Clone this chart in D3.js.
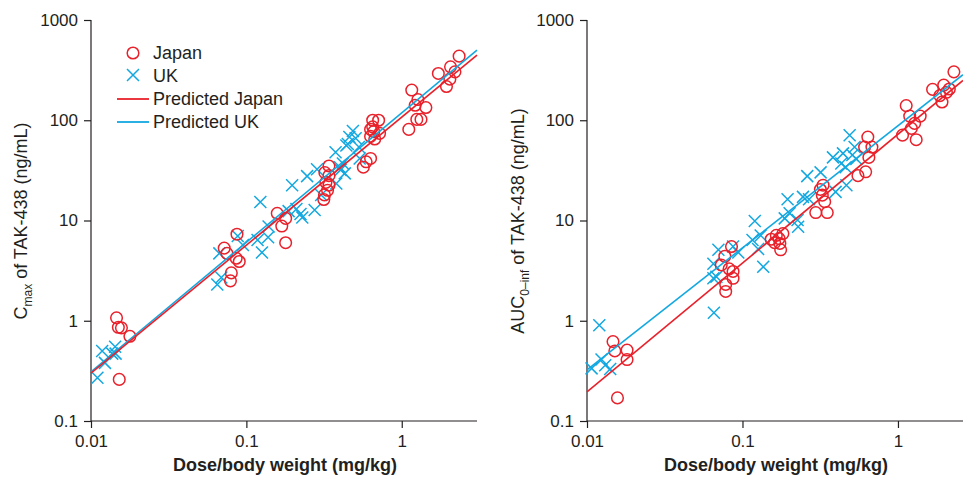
<!DOCTYPE html>
<html>
<head>
<meta charset="utf-8">
<script src="https://cdn.jsdelivr.net/npm/d3@7"></script>
<style>
  body { margin: 0; background: #fff; }
  svg { display: block; font-family: "Liberation Sans", Arial, sans-serif; }
  .tick text { fill: #231f20; }
</style>
</head>
<body>
<svg id="chart" width="963" height="477"></svg>
<script>
// Cmax panel (dose mg/kg, ng/mL)
var cmaxJapanDose = [0.0146,0.0150,0.0157,0.0178,0.0152, 0.072,0.075,0.087,0.086,0.090,0.080,0.079,
  0.158,0.179,0.169,0.179, 0.34,0.32,0.34,0.325,0.34,0.333,0.315,0.318, 0.566,0.59,0.63,
  0.65,0.71,0.65,0.66,0.72,0.63,0.67,0.63, 1.16,1.27,1.22,1.43,1.25,1.33,1.11, 2.34,1.72,2.06,2.2,2.04,1.94];
var cmaxJapan = [1.07,0.86,0.85,0.70,0.26, 5.3,4.7,7.3,4.2,3.9,3.0,2.5,
  11.8,10.5,8.8,6.0, 35,30,28,24,22.5,20,16.2,18, 34,38.5,41.6,
  100,100,86,77,74,69,65,81, 200,161,141,134,102,102,81, 436,293,341,304,257,217];
var cmaxUKDose = [0.0118,0.0143,0.0137,0.0144,0.0123,0.011, 0.065,0.069,0.067,0.088,0.095,
  0.123,0.126,0.118,0.138,0.139, 0.197,0.246,0.187,0.21,0.223,0.229,0.275,0.285,
  0.375,0.418,0.404,0.379,0.303,0.45,0.485,0.505,0.53,0.536,0.46,0.44,0.40,0.43];
var cmaxUK = [0.50,0.55,0.47,0.47,0.38,0.27, 2.3,2.7,4.7,7.0,5.7,
  15.3,4.8,6.4,6.8,8.7, 22.5,27.7,12.4,13,11.6,10.7,12.7,32.5,
  48,37,32,23.4,18,58,78,66,54,41.6,68,56,34,29.5];

// AUC panel
var aucJapanDose = [0.0147,0.0151,0.0181,0.0181,0.0157, 0.085,0.077,0.073,0.082,0.087,0.087,0.078,0.078,
  0.153,0.165,0.182,0.161,0.172,0.176,0.174, 0.33,0.317,0.326,0.338,0.296,0.351,
  0.64,0.61,0.68,0.65,0.62,0.553, 1.13,1.19,1.39,1.28,1.22,1.07,1.31, 2.29,1.67,1.97,2.14,1.86,1.92,2.05];
var aucJapan = [0.62,0.50,0.51,0.41,0.17, 5.5,4.4,3.6,3.3,3.1,2.65,2.3,1.96,
  6.5,7.1,7.4,6.0,6.6,5.1,5.9, 22.5,20.4,17.9,15.4,12,12,
  68,54,54,42.6,30.6,28, 140,110,110,93,83,71,64, 304,203,224,205,176,152,190];
var aucUKDose = [0.012,0.0107,0.0124,0.0131,0.0141, 0.0655,0.065,0.068,0.065,0.07,0.087,0.094,
  0.12,0.116,0.131,0.126,0.136, 0.195,0.187,0.201,0.226,0.228,0.245,0.268,0.261,0.318,
  0.382,0.397,0.432,0.461,0.443,0.489,0.526,0.509,0.466,0.54];
var aucUK = [0.9,0.335,0.41,0.36,0.33, 1.2,2.65,2.75,3.7,5.1,5.5,4.8,
  9.9,6.4,7.1,5.2,3.45, 16.3,10.5,11.8,10.1,8.65,17.2,16.3,27.7,30.2,
  42.6,19.3,37,34,46.7,71,54,45,22.5,41];

// model predictions (straight lines on log-log)
var predDoseCmax = [0.01, 3.05];
var predJapanCmax = [0.30, 446];
var predUKCmax = [0.31, 500];
var predDoseAuc = [0.01, 2.62];
var predJapanAuc = [0.195, 250];
var predUKAuc = [0.323, 285];

var yTicks = [0.1, 1, 10, 100, 1000];
var xTicks = [0.01, 0.1, 1];
var legendLabels = ["Japan", "UK", "Predicted Japan", "Predicted UK"];

var red = "#e8212b", blue = "#13a8e0", ink = "#231f20";

var svg = d3.select("#chart");

function zip(a, b){ return a.map(function(d, i){ return [d, b[i]]; }); }

function drawPanel(opt){
  var x = d3.scaleLog().domain([0.01, opt.xmax]).range([opt.left, opt.right]);
  var y = d3.scaleLog().domain([0.1, 1000]).range([421, 20]);
  var g = svg.append("g");

  var xAxis = d3.axisBottom(x).tickValues(xTicks).tickSize(7).tickPadding(7)
    .tickFormat(function(d){ return String(d); });
  var yAxis = d3.axisLeft(y).tickValues(yTicks).tickSize(7).tickPadding(6)
    .tickFormat(function(d){ return String(d); });

  var gx = g.append("g").attr("transform", "translate(0,421)").call(xAxis);
  var gy = g.append("g").attr("transform", "translate(" + opt.left + ",0)").call(yAxis);
  [gx, gy].forEach(function(a){
    a.select(".domain").attr("stroke", ink).attr("stroke-width", 1.2);
    a.selectAll(".tick line").attr("stroke", ink).attr("stroke-width", 1.2);
    a.selectAll(".tick text").style("font-size", "17px");
  });
  gx.select(".domain").attr("d", "M" + opt.left + ",0H" + opt.right);
  gy.select(".domain").attr("d", "M0,20V421");

  // UK crosses
  g.selectAll(".uk").data(zip(opt.ukDose, opt.uk)).enter().append("path")
    .attr("class", "uk")
    .attr("transform", function(d){ return "translate(" + x(d[0]) + "," + y(d[1]) + ")"; })
    .attr("d", "M-6,-6L6,6M-6,6L6,-6")
    .attr("stroke", blue).attr("stroke-width", 1.5).attr("fill", "none");

  // Japan circles
  g.selectAll(".jp").data(zip(opt.jpDose, opt.jp)).enter().append("circle")
    .attr("class", "jp")
    .attr("cx", function(d){ return x(d[0]); })
    .attr("cy", function(d){ return y(d[1]); })
    .attr("r", 5.8)
    .attr("stroke", red).attr("stroke-width", 1.5).attr("fill", "none");

  var line = d3.line().x(function(d){ return x(d[0]); }).y(function(d){ return y(d[1]); });
  g.append("path").datum(zip(opt.predDose, opt.predUK)).attr("d", line)
    .attr("stroke", blue).attr("stroke-width", 1.6).attr("fill", "none");
  g.append("path").datum(zip(opt.predDose, opt.predJapan)).attr("d", line)
    .attr("stroke", red).attr("stroke-width", 1.6).attr("fill", "none");

  g.append("text")
    .attr("x", opt.titleX)
    .attr("y", 471)
    .attr("text-anchor", "middle")
    .style("font-size", "18px").style("font-weight", "bold").attr("fill", ink)
    .text("Dose/body weight (mg/kg)");

  var yt = g.append("text")
    .attr("transform", "translate(" + opt.yTitleX + ",221) rotate(-90)")
    .attr("text-anchor", "middle")
    .style("font-size", "18px").attr("fill", ink);
  yt.append("tspan").text(opt.yMain);
  yt.append("tspan").attr("dy", 5).style("font-size", "12px").text(opt.ySub);
  yt.append("tspan").attr("dy", -5).text(" of TAK-438 (ng/mL)");

  return g;
}

var left = drawPanel({
  left: 91, right: 477, xmax: 3.05, titleX: 285,
  jpDose: cmaxJapanDose, jp: cmaxJapan, ukDose: cmaxUKDose, uk: cmaxUK,
  predDose: predDoseCmax, predJapan: predJapanCmax, predUK: predUKCmax,
  yTitleX: 27, yMain: "C", ySub: "max"
});

drawPanel({
  left: 587, right: 963, xmax: 2.62, titleX: 776,
  jpDose: aucJapanDose, jp: aucJapan, ukDose: aucUKDose, uk: aucUK,
  predDose: predDoseAuc, predJapan: predJapanAuc, predUK: predUKAuc,
  yTitleX: 524, yMain: "AUC", ySub: "0\u2013inf"
});

// legend
var lg = left.append("g");
var rowY = [59, 82, 105, 128];
lg.append("circle").attr("cx", 133).attr("cy", rowY[0] - 6).attr("r", 5.8)
  .attr("stroke", red).attr("stroke-width", 1.5).attr("fill", "none");
lg.append("path").attr("transform", "translate(133," + (rowY[1] - 7) + ")")
  .attr("d", "M-6,-6L6,6M-6,6L6,-6").attr("stroke", blue).attr("stroke-width", 1.5);
lg.append("line").attr("x1", 117).attr("x2", 149).attr("y1", rowY[2] - 6).attr("y2", rowY[2] - 6)
  .attr("stroke", red).attr("stroke-width", 1.8);
lg.append("line").attr("x1", 117).attr("x2", 149).attr("y1", rowY[3] - 6).attr("y2", rowY[3] - 6)
  .attr("stroke", blue).attr("stroke-width", 1.8);
lg.selectAll(".lt").data(legendLabels).enter().append("text")
  .attr("x", 153).attr("y", function(d, i){ return rowY[i]; })
  .style("font-size", "18px").attr("fill", ink)
  .text(function(d){ return d; });
</script>
</body>
</html>
